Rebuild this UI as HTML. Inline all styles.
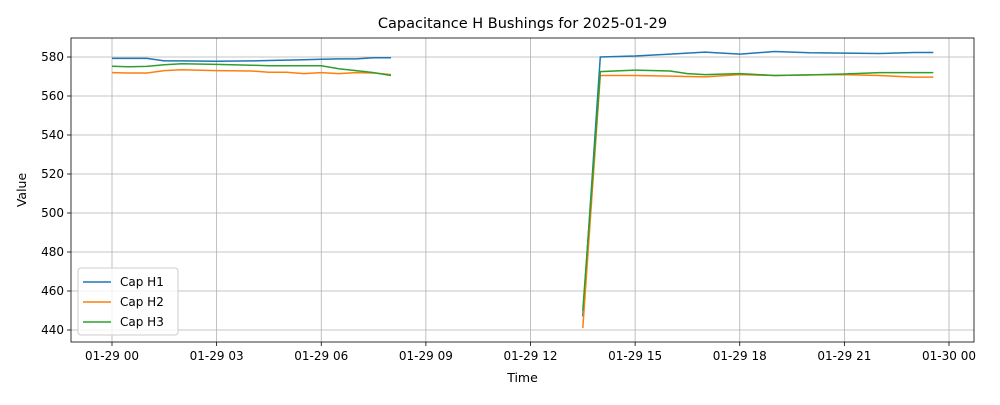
<!DOCTYPE html>
<html><head><meta charset="utf-8"><style>
body{margin:0;background:#fff;font-family:"Liberation Sans","DejaVu Sans",sans-serif}
svg text{font-family:"DejaVu Sans","Liberation Sans",sans-serif}
</style></head><body>
<svg id="c" width="1000" height="400"></svg>
<script>
const hours=[0,0.5,1,1.5,2,3,4,4.5,5,5.5,6,6.5,7,7.5,8,null,13.5,14,15,16,16.5,17,18,19,20,21,22,23,23.55];
const capH1=[579.3,579.3,579.3,578,578,577.8,578,578.2,578.4,578.6,578.8,579,579,579.6,579.6,null,447,580,580.5,581.5,582,582.5,581.5,582.8,582.2,582,581.8,582.3,582.3];
const capH2=[572,571.8,571.8,573,573.5,573,572.8,572.2,572.2,571.5,572,571.5,572,571.8,571,null,441,570.5,570.5,570.2,570,569.8,571,570.5,570.8,571,570.5,569.7,569.7];
const capH3=[575.3,575,575.2,576,576.5,576.2,575.8,575.5,575.5,575.5,575.5,574,573,572,570.5,null,450,572.5,573.3,572.8,571.5,571,571.5,570.5,570.8,571.3,572,572,572];
const xTicks=["01-29 00","01-29 03","01-29 06","01-29 09","01-29 12","01-29 15","01-29 18","01-29 21","01-30 00"];
const yTicks=[440,460,480,500,520,540,560,580];
const L=71,R=974,T=38,B=342;
const X=h=>112+h*(949-112)/24, Y=v=>330+(v-440)*(57-330)/140;
const s=document.getElementById('c'),NS="http://www.w3.org/2000/svg";
function el(t,a,txt){const e=document.createElementNS(NS,t);for(const k in a)e.setAttribute(k,a[k]);if(txt!=null)e.textContent=txt;s.appendChild(e);return e;}
xTicks.forEach((t,i)=>{const x=X(i*3);
const g=el('line',{x1:x,x2:x,y1:T,y2:B,stroke:'#b0b0b0','stroke-width':0.8});

el('line',{x1:x,x2:x,y1:B,y2:B+4,stroke:'#000','stroke-width':0.8});
const tx=el('text',{x:x,y:B+18,'font-size':12,'text-anchor':'middle'},t);
});
yTicks.forEach(v=>{const y=Y(v);
const g=el('line',{x1:L,x2:R,y1:y,y2:y,stroke:'#b0b0b0','stroke-width':0.8});

el('line',{x1:L-4,x2:L,y1:y,y2:y,stroke:'#000','stroke-width':0.8});
const tx=el('text',{x:L-7,y:y+4,'font-size':12,'text-anchor':'end'},v);
});
const series=[[capH1,'#1f77b4','cap-h1-line'],[capH2,'#ff7f0e','cap-h2-line'],[capH3,'#2ca02c','cap-h3-line']];
series.forEach(([d,c,n])=>{let p='',m=true;hours.forEach((h,i)=>{if(h==null||d[i]==null){m=true;return;}p+=(m?'M':'L')+X(h).toFixed(1)+','+Y(d[i]).toFixed(1);m=false;});
const e=el('path',{d:p,fill:'none',stroke:c,'stroke-width':1.5});
});
const fr=el('rect',{x:L,y:T,width:R-L,height:B-T,fill:'none',stroke:'#000','stroke-width':0.8});

const ti=el('text',{x:(L+R)/2,y:28,'font-size':14.5,'text-anchor':'middle'},'Capacitance H Bushings for 2025-01-29');

const xt=el('text',{x:(L+R)/2,y:382,'font-size':12.5,'text-anchor':'middle'},'Time');

const yt=el('text',{x:26,y:190,'font-size':12.5,'text-anchor':'middle',transform:'rotate(-90 26 190)'},'Value');

const lg=el('rect',{x:78,y:268,width:100,height:67,fill:'#fff','fill-opacity':0.8,stroke:'#ccc',rx:3});

['Cap H1','Cap H2','Cap H3'].forEach((n,i)=>{const y=282+i*20;
el('line',{x1:83,x2:111,y1:y,y2:y,stroke:series[i][1],'stroke-width':1.5});
const t=el('text',{x:120,y:y+4,'font-size':12},n);
});
</script>
</body></html>
